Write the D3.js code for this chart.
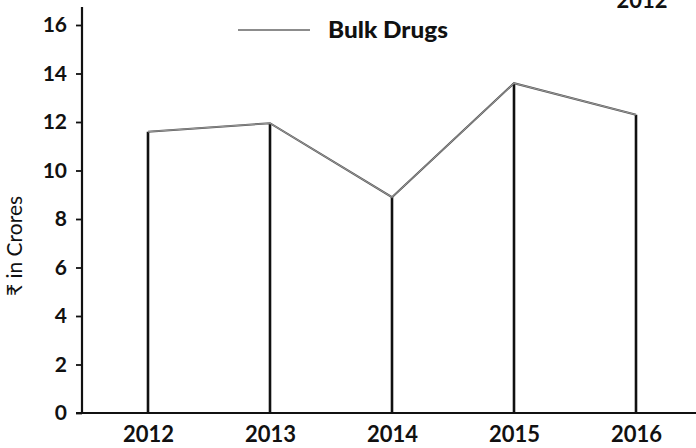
<!DOCTYPE html>
<html>
<head>
<meta charset="utf-8">
<script src="https://cdn.jsdelivr.net/npm/d3@7"></script>
<style>
  html, body { margin: 0; padding: 0; background: #fff; }
  svg { display: block; }
  text { font-family: Lato, "Open Sans", sans-serif; fill: #111; }
</style>
</head>
<body>
<svg id="chart" width="696" height="448"></svg>
<script>
const years = ["2012", "2013", "2014", "2015", "2016"];
const bulkDrugs = [11.6, 11.95, 8.9, 13.6, 12.3];
const yTicks = [0, 2, 4, 6, 8, 10, 12, 14, 16];
const seriesName = "Bulk Drugs";
const yTitle = "₹ in Crores";
const cornerLabel = "2012";

const svg = d3.select("#chart");

const x = d3.scalePoint().domain(years).range([148, 636]);
const y = d3.scaleLinear().domain([0, 16]).range([413, 25]);

// Y axis
const yAxis = svg.append("g").attr("transform", "translate(82,0)")
  .call(d3.axisLeft(y).tickValues(yTicks).tickSize(6).tickPadding(9).tickFormat(d3.format("d")));
yAxis.select(".domain").remove();
yAxis.selectAll(".tick line").attr("stroke", "#111").attr("stroke-width", 1.8);
yAxis.selectAll(".tick text").attr("font-size", 21).attr("font-weight", 700)
  .style("font-family", "Lato, sans-serif").attr("fill", "#111");
svg.append("line").attr("x1", 82).attr("x2", 82).attr("y1", 7).attr("y2", y(0))
  .attr("stroke", "#111").attr("stroke-width", 2.2);

// X axis
const xAxis = svg.append("g").attr("transform", `translate(0,${y(0)})`)
  .call(d3.axisBottom(x).tickSize(0).tickPadding(13));
xAxis.select(".domain").remove();
xAxis.selectAll(".tick text").attr("font-size", 22).attr("font-weight", 700)
  .style("font-family", "Lato, sans-serif").attr("fill", "#111");
svg.append("line").attr("x1", 76).attr("x2", 696).attr("y1", y(0)).attr("y2", y(0))
  .attr("stroke", "#111").attr("stroke-width", 2.2);

// Drop lines
svg.append("g").selectAll("line").data(years).join("line")
  .attr("x1", d => x(d)).attr("x2", d => x(d))
  .attr("y1", (d, i) => y(bulkDrugs[i])).attr("y2", y(0))
  .attr("stroke", "#111").attr("stroke-width", 2.6);

// Series line
const line = d3.line().x((d, i) => x(years[i])).y(d => y(d));
svg.append("path").datum(bulkDrugs).attr("d", line)
  .attr("fill", "none").attr("stroke", "#555").attr("stroke-width", 2);
svg.append("path").datum(bulkDrugs).attr("d", line)
  .attr("fill", "none").attr("stroke", "#aaa").attr("stroke-width", 0.8);

// Legend
svg.append("line").attr("x1", 238).attr("x2", 310).attr("y1", 30).attr("y2", 30)
  .attr("stroke", "#666").attr("stroke-width", 1.6);
svg.append("text").attr("x", 328).attr("y", 38).attr("font-size", 22).attr("font-weight", 900)
  .attr("textLength", 120).attr("lengthAdjust", "spacingAndGlyphs").text(seriesName);

// Y title
svg.append("text").attr("transform", "translate(22,246) rotate(-90)")
  .attr("text-anchor", "middle").attr("font-size", 21).text(yTitle);

// Clipped corner label (cut off at the top edge, as in the source)
svg.append("text").attr("x", 642).attr("y", 8).attr("text-anchor", "middle")
  .attr("font-size", 22).attr("font-weight", 700).text(cornerLabel);
</script>
</body>
</html>
